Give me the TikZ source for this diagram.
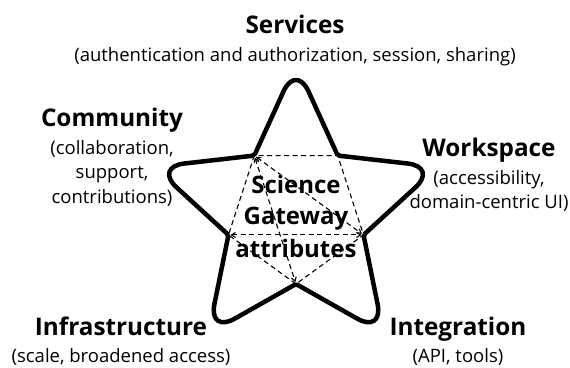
\documentclass[tikz,border=0pt]{standalone}
\usepackage{fontspec}
\setmainfont{Open Sans}
\usetikzlibrary{arrows.meta,positioning,calc}
\tikzset{
  starline/.style={line width=4.5pt,line join=round},
  guide/.style={line width=1.1pt,dash pattern=on 5pt off 3.5pt},
  tips/.style={{Straight Barb[length=4pt,width=5pt]}-{Straight Barb[length=4pt,width=5pt]},
               shorten <=2pt,shorten >=2pt},
  attr/.style={font=\fontsize{24.3}{28}\selectfont\bfseries,inner sep=0pt,anchor=base},
  sub/.style={font=\fontsize{18.5}{24.5}\selectfont,align=center,inner sep=0pt},
  core/.style={font=\fontsize{24}{32}\selectfont\bfseries,align=center,inner sep=0pt},
}

\begin{document}
\begin{tikzpicture}[x=1pt,y=1pt]
  \useasboundingbox (0,0) rectangle (570,367);
  \coordinate (c) at (296,154);
  % outer tips o0..o4 and inner corners p0..p4, counterclockwise from the top
  \foreach \i in {0,...,4}{
    \coordinate (o\i) at ($(c)+(90+72*\i:149pt)$);
    \coordinate (p\i) at ($(c)+(126+72*\i:71pt)$);
  }

  % inner pentagon and its diagonals
  \draw[guide] (p0) -- (p1) -- (p2) -- (p3) -- (p4) -- cycle;
  \draw[guide,tips] (p0) -- (p3);
  \draw[guide,tips] (p0) -- (p2);
  \draw[guide,tips] (p1) -- (p3);

  % the star
  \draw[starline] (p4) [rounded corners=30pt] -- (o0) [rounded corners=2pt] -- (p0)
    [rounded corners=30pt] -- (o1) [rounded corners=2pt] -- (p1)
    [rounded corners=30pt] -- (o2) [rounded corners=2pt] -- (p2)
    [rounded corners=30pt] -- (o3) [rounded corners=2pt] -- (p3)
    [rounded corners=30pt] -- (o4) [rounded corners=2pt] -- cycle;

  \node[core] (sga) at (296,151) {Science\\Gateway\\attributes};

  \node[attr] (serv) at (295,333) {Services};
  \node[sub,below=13pt of serv.base] (servsub) {(authentication and authorization, session, sharing)};

  \node[attr] (comm) at (112,240) {Community};
  \node[sub,below=13pt of comm.base] (commsub) {(collaboration,\\support,\\contributions)};

  \node[attr] (work) at (489,210) {Workspace};
  \node[sub,below=13pt of work.base] (worksub) {(accessibility,\\domain-centric UI)};

  \node[attr] (infra) at (121,32) {Infrastructure};
  \node[sub,below=13pt of infra.base] (infrasub) {(scale, broadened access)};

  \node[attr] (integ) at (458,32) {Integration};
  \node[sub,below=13pt of integ.base] (integsub) {(API, tools)};
\end{tikzpicture}
\end{document}
